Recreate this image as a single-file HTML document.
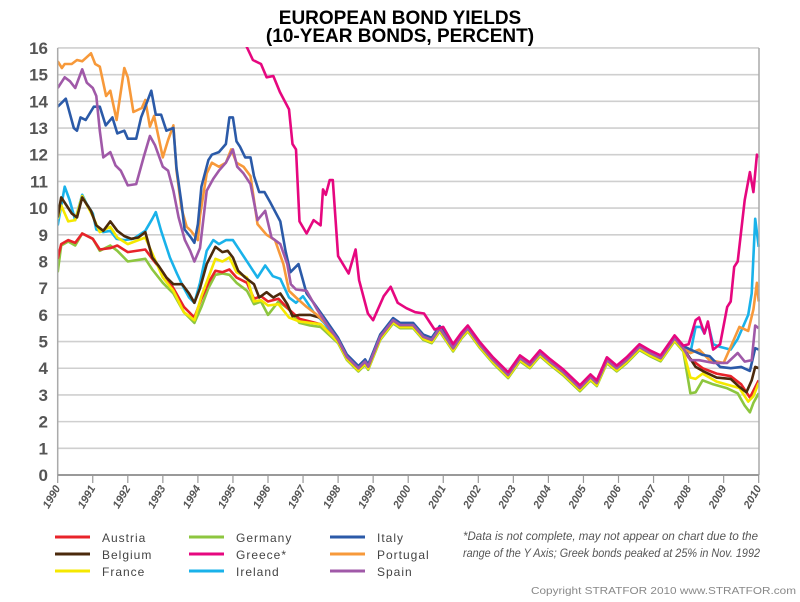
<!DOCTYPE html>
<html><head><meta charset="utf-8"><style>
body{margin:0;background:#fff;width:800px;height:602px;overflow:hidden;font-family:"Liberation Sans",sans-serif}
svg{display:block}
</style></head><body>
<svg id="chart" width="800" height="602" xmlns="http://www.w3.org/2000/svg">
<text x="400" y="24" text-anchor="middle" font-family="Liberation Sans" font-weight="bold" font-size="19">EUROPEAN BOND YIELDS</text>
<text x="400" y="42" text-anchor="middle" font-family="Liberation Sans" font-weight="bold" font-size="19">(10-YEAR BONDS, PERCENT)</text>
<g id="grid"></g><g id="series" clip-path="url(#plotclip)"></g><g id="axes"></g><g id="legend"></g>
<defs><clipPath id="plotclip"><rect x="57" y="47" width="703" height="430"/></clipPath></defs>
<text x="463" y="540" font-family="Liberation Sans" font-style="italic" font-size="11.5" fill="#555" textLength="295" lengthAdjust="spacingAndGlyphs">*Data is not complete, may not appear on chart due to the</text>
<text x="463" y="557" font-family="Liberation Sans" font-style="italic" font-size="11.5" fill="#555" textLength="297" lengthAdjust="spacingAndGlyphs">range of the Y Axis; Greek bonds peaked at 25% in Nov. 1992</text>
<text x="796" y="594" text-anchor="end" font-family="Liberation Sans" font-size="10.5" fill="#888" textLength="265" lengthAdjust="spacingAndGlyphs">Copyright STRATFOR 2010    www.STRATFOR.com</text>
</svg>
<script>
const yTicks=[0,1,2,3,4,5,6,7,8,9,10,11,12,13,14,15,16];
const xTicks=[1990,1991,1992,1993,1994,1995,1996,1997,1998,1999,2000,2001,2002,2003,2004,2005,2006,2007,2008,2009,2010];
const convYears=[1998.0,1998.25,1998.58,1998.77,1998.86,1999.2,1999.57,1999.77,2000.14,2000.43,2000.67,2000.9,2001.28,2001.53,2001.7,2002.05,2002.42,2002.85,2003.19,2003.47,2003.76,2004.05,2004.42,2004.9,2005.2,2005.38,2005.67,2005.95,2006.23,2006.6,2006.9,2007.2,2007.6,2007.85];
const convVals=[5.06,4.43,4.0,4.25,4.06,5.18,5.8,5.62,5.62,5.18,5.06,5.5,4.75,5.25,5.5,4.87,4.31,3.75,4.38,4.12,4.57,4.24,3.86,3.26,3.67,3.45,4.31,4.0,4.31,4.8,4.57,4.38,5.13,4.75];

const italyYears=[1990.0,1990.23,1990.46,1990.55,1990.65,1990.8,1991.03,1991.2,1991.37,1991.56,1991.7,1991.9,1992.0,1992.24,1992.38,1992.5,1992.67,1992.8,1992.95,1993.1,1993.3,1993.39,1993.53,1993.62,1993.8,1993.9,1994.0,1994.1,1994.3,1994.4,1994.6,1994.8,1994.9,1995.0,1995.1,1995.2,1995.35,1995.5,1995.6,1995.75,1995.9,1996.07,1996.35,1996.5,1996.64,1996.87,1997.1,1997.3,1997.6];
const italyVals=[13.8,14.1,13.0,12.9,13.4,13.3,13.8,13.8,13.1,13.4,12.8,12.9,12.6,12.6,13.4,13.8,14.4,13.5,13.5,12.9,13.0,11.5,10.2,9.2,8.9,8.7,9.4,10.8,11.8,12.0,12.1,12.4,13.4,13.4,12.5,12.3,11.9,11.9,11.2,10.6,10.6,10.2,9.5,8.4,7.6,7.9,6.8,6.45,5.9];
const italyLateYears=[2008.05,2008.4,2008.6,2008.9,2009.2,2009.5,2009.75,2009.9,2010.0];
const italyLateVals=[4.7,4.5,4.45,4.05,4.0,4.05,3.9,4.75,4.7];

const portugalYears=[1990.0,1990.12,1990.2,1990.4,1990.55,1990.7,1990.95,1991.07,1991.2,1991.38,1991.5,1991.68,1991.9,1992.0,1992.16,1992.4,1992.5,1992.63,1992.75,1993.0,1993.15,1993.3,1993.39,1993.53,1993.68,1993.8,1994.0,1994.06,1994.25,1994.4,1994.6,1994.8,1994.95,1995.1,1995.3,1995.5,1995.7,1995.96,1996.2,1996.44,1996.6,1996.8,1997.1,1997.4,1997.7];
const portugalVals=[15.5,15.25,15.4,15.4,15.55,15.5,15.8,15.4,15.3,14.2,14.4,13.3,15.25,14.9,13.6,13.75,14.05,13.05,13.45,11.9,12.55,13.1,11.4,10.0,9.3,9.15,8.8,9.7,11.3,11.7,11.55,11.7,12.2,11.7,11.55,11.2,9.4,9.0,8.8,7.9,6.9,6.65,6.3,6.0,5.6];
const portugalLateYears=[2008.05,2008.3,2008.6,2009.0,2009.2,2009.45,2009.7,2009.85,2009.95,2010.0];
const portugalLateVals=[4.57,4.7,4.3,4.2,4.8,5.55,5.4,6.2,7.2,6.5];

const spainYears=[1990.0,1990.2,1990.35,1990.5,1990.7,1990.83,1991.0,1991.1,1991.2,1991.3,1991.5,1991.65,1991.8,1992.0,1992.24,1992.45,1992.63,1992.78,1993.0,1993.15,1993.3,1993.45,1993.63,1993.78,1993.9,1994.06,1994.25,1994.44,1994.6,1994.8,1995.0,1995.12,1995.3,1995.5,1995.7,1995.92,1996.1,1996.35,1996.55,1996.65,1996.8,1997.1,1997.4,1997.7];
const spainVals=[14.5,14.9,14.75,14.5,15.2,14.7,14.5,14.2,12.9,11.9,12.1,11.6,11.4,10.85,10.9,11.9,12.7,12.35,11.55,11.4,10.65,9.65,8.8,8.4,8.0,8.5,10.65,11.1,11.4,11.7,12.2,11.55,11.3,10.9,9.55,9.9,8.9,8.65,7.9,7.15,6.95,6.9,6.2,5.6];
const spainLateYears=[2008.05,2008.3,2008.7,2009.1,2009.4,2009.6,2009.8,2009.9,2010.0];
const spainLateVals=[4.3,4.3,4.2,4.2,4.57,4.25,4.3,5.6,5.5];

const irelandYears=[1990.0,1990.2,1990.34,1990.5,1990.7,1990.83,1991.0,1991.1,1991.3,1991.5,1991.68,1991.9,1992.16,1992.5,1992.7,1992.8,1992.95,1993.2,1993.4,1993.58,1993.75,1993.9,1994.06,1994.25,1994.44,1994.6,1994.8,1995.0,1995.2,1995.45,1995.7,1995.92,1996.14,1996.35,1996.6,1996.8,1997.0,1997.3,1997.6];
const irelandVals=[9.35,10.8,10.3,9.55,10.5,10.15,9.8,9.2,9.1,9.15,8.85,8.8,8.85,9.15,9.6,9.85,9.15,8.15,7.55,7.05,6.65,6.45,7.2,8.4,8.8,8.65,8.8,8.8,8.4,7.9,7.4,7.85,7.45,7.35,6.65,6.45,6.7,6.1,5.7];
const irelandLateYears=[2008.05,2008.2,2008.35,2008.45,2008.55,2008.7,2008.9,2009.2,2009.4,2009.7,2009.8,2009.9,2010.0];
const irelandLateVals=[4.57,5.55,5.55,5.3,5.7,4.9,4.8,4.7,5.1,6.0,6.8,9.6,8.55];

const belgiumYears=[1990.0,1990.1,1990.25,1990.4,1990.55,1990.7,1990.95,1991.1,1991.3,1991.5,1991.7,1991.9,1992.1,1992.3,1992.5,1992.7,1992.9,1993.1,1993.3,1993.55,1993.75,1993.9,1994.06,1994.25,1994.5,1994.7,1994.85,1995.0,1995.15,1995.35,1995.6,1995.75,1995.96,1996.15,1996.35,1996.55,1996.7,1996.9,1997.2,1997.6];
const belgiumVals=[9.65,10.4,10.1,9.8,9.65,10.4,9.9,9.35,9.15,9.5,9.15,8.95,8.85,8.9,9.1,8.15,7.8,7.4,7.15,7.15,6.8,6.45,7.0,7.9,8.55,8.35,8.4,8.15,7.65,7.4,7.15,6.65,6.85,6.65,6.8,6.4,5.95,6.0,6.0,5.85];
const belgiumLateYears=[2008.0,2008.2,2008.4,2008.8,2009.2,2009.45,2009.65,2009.8,2009.9,2010.0];
const belgiumLateVals=[4.45,4.05,3.9,3.65,3.6,3.3,3.1,3.55,4.05,4.0];

const franceYears=[1990.0,1990.1,1990.3,1990.5,1990.7,1991.0,1991.2,1991.5,1991.7,1992.0,1992.5,1992.7,1993.0,1993.3,1993.6,1993.9,1994.1,1994.3,1994.5,1994.7,1994.9,1995.1,1995.4,1995.6,1995.8,1996.0,1996.3,1996.6,1996.9,1997.2,1997.5];
const franceVals=[9.6,10.1,9.5,9.55,10.45,9.7,9.1,9.3,8.9,8.65,8.9,8.3,7.4,6.9,6.1,5.8,6.7,7.4,8.1,8.0,8.15,7.6,7.4,6.5,6.55,6.35,6.4,5.9,5.75,5.7,5.65];
const franceLateYears=[2008.05,2008.2,2008.4,2008.8,2009.2,2009.45,2009.7,2009.85,2010.0];
const franceLateVals=[3.65,3.6,3.8,3.5,3.35,3.26,2.75,2.95,3.45];

const austriaYears=[1990.0,1990.1,1990.3,1990.5,1990.7,1991.0,1991.2,1991.5,1991.7,1992.0,1992.5,1992.7,1993.0,1993.3,1993.6,1993.9,1994.1,1994.3,1994.5,1994.7,1994.9,1995.1,1995.4,1995.6,1995.8,1996.0,1996.3,1996.6,1996.9,1997.2,1997.5];
const austriaVals=[8.1,8.65,8.8,8.7,9.05,8.85,8.45,8.5,8.6,8.35,8.45,8.1,7.6,7.0,6.3,5.9,6.6,7.2,7.65,7.6,7.7,7.4,7.2,6.6,6.7,6.5,6.6,6.2,5.85,5.75,5.65];
const austriaLateYears=[2008.0,2008.4,2008.8,2009.2,2009.5,2009.75,2010.0];
const austriaLateVals=[4.4,4.0,3.8,3.7,3.4,2.9,3.55];

const germanyYears=[1990.0,1990.1,1990.3,1990.5,1990.7,1991.0,1991.2,1991.5,1991.7,1992.0,1992.5,1992.7,1993.0,1993.3,1993.6,1993.9,1994.1,1994.3,1994.5,1994.7,1994.9,1995.1,1995.4,1995.6,1995.8,1996.0,1996.3,1996.6,1996.9,1997.2,1997.5];
const germanyVals=[7.6,8.6,8.75,8.6,9.05,8.85,8.4,8.6,8.4,8.0,8.1,7.7,7.2,6.8,6.1,5.7,6.3,7.0,7.5,7.55,7.5,7.2,6.9,6.4,6.5,6.0,6.5,6.2,5.7,5.6,5.55];
const germanyLateYears=[2008.05,2008.2,2008.4,2008.7,2009.1,2009.4,2009.6,2009.75,2009.85,2010.0];
const germanyLateVals=[3.06,3.1,3.55,3.4,3.25,3.06,2.6,2.35,2.7,3.06];

const greeceYears=[1995.3,1995.39,1995.57,1995.8,1995.96,1996.15,1996.34,1996.6,1996.7,1996.8,1996.9,1997.1,1997.3,1997.5,1997.57,1997.65,1997.76,1997.85,1998.0,1998.3,1998.5,1998.6,1998.85,1999.0,1999.3,1999.5,1999.7,1999.95,2000.2,2000.45,2000.75,2001.0,2001.28,2001.53,2001.7];
const greeceVals=[17,16.05,15.55,15.4,14.9,14.95,14.35,13.7,12.4,12.2,9.5,9.05,9.55,9.35,10.7,10.5,11.05,11.05,8.2,7.55,8.45,7.3,6.05,5.8,6.7,7.05,6.45,6.25,6.1,6.05,5.45,5.55,4.9,5.35,5.6];
const greeceLateYears=[2008.0,2008.2,2008.3,2008.45,2008.55,2008.7,2008.9,2009.1,2009.2,2009.3,2009.4,2009.6,2009.75,2009.85,2009.95,2010.0];
const greeceLateVals=[4.9,5.8,5.9,5.3,5.75,4.7,4.9,6.3,6.5,7.8,8.0,10.3,11.35,10.6,12.0,11.9];

const convOffsets={italy:0.08,portugal:0.04,spain:0.0,ireland:-0.05,belgium:0.0,france:-0.08,austria:-0.04,germany:-0.12,greece:0.1};

const NS="http://www.w3.org/2000/svg";
const X0=57.7,XW=35.05,Y0=475,YU=26.69;
function xs(yr){return X0+(yr-1990)*XW;}
function ys(v){return Y0-v*YU;}
function mk(tag,attrs,parent){const e=document.createElementNS(NS,tag);for(const k in attrs)e.setAttribute(k,attrs[k]);parent.appendChild(e);return e;}

const grid=document.getElementById('grid'),axes=document.getElementById('axes'),ser=document.getElementById('series'),leg=document.getElementById('legend');
yTicks.forEach(t=>{
  if(t>0){const l=mk('line',{x1:X0,x2:759,y1:ys(t),y2:ys(t),stroke:'#cfcfcf','stroke-width':1.6},grid);
  
  }
  const tx=mk('text',{x:48,y:ys(t)+6,'text-anchor':'end','font-size':17,'font-weight':'bold',fill:'#555','font-family':'Liberation Sans'},axes);
  tx.textContent=t;
  
  
});
const la=mk('line',{x1:X0,x2:X0,y1:ys(16),y2:Y0,stroke:'#aaa','stroke-width':1.5},axes);


const ra=mk('line',{x1:759,x2:759,y1:ys(16),y2:Y0,stroke:'#aaa','stroke-width':1.5},axes);


const ba=mk('line',{x1:X0,x2:759,y1:Y0,y2:Y0,stroke:'#999','stroke-width':2},axes);


xTicks.forEach(t=>{
  const x=xs(t);
  const tk=mk('line',{x1:x,x2:x,y1:Y0,y2:Y0+8,stroke:'#999','stroke-width':1.2},axes);
  
  
  const tx=mk('text',{x:x+3,y:Y0+13,'text-anchor':'end','font-size':11,'font-weight':'bold','font-style':'italic',fill:'#555','font-family':'Liberation Sans',transform:`rotate(-60 ${x+3} ${Y0+13})`},axes);
  tx.textContent=t;
  
  
});

function build(ey,ev,off,ly,lv,startConv){
  const pts=[];
  ey.forEach((y,i)=>pts.push([y,ev[i]]));
  convYears.forEach((y,i)=>{if(y>ey[ey.length-1]&&y>=startConv)pts.push([y,convVals[i]+off]);});
  ly.forEach((y,i)=>pts.push([y,lv[i]]));
  return pts;
}
const seriesList=[
 ['ireland','#19b2ea',build(irelandYears,irelandVals,convOffsets.ireland,irelandLateYears,irelandLateVals,0)],
 ['germany','#8dc63f',build(germanyYears,germanyVals,convOffsets.germany,germanyLateYears,germanyLateVals,0)],
 ['austria','#e8232a',build(austriaYears,austriaVals,convOffsets.austria,austriaLateYears,austriaLateVals,0)],
 ['france','#f5e800',build(franceYears,franceVals,convOffsets.france,franceLateYears,franceLateVals,0)],
 ['belgium','#4b2a0c',build(belgiumYears,belgiumVals,convOffsets.belgium,belgiumLateYears,belgiumLateVals,0)],
 ['portugal','#f7993a',build(portugalYears,portugalVals,convOffsets.portugal,portugalLateYears,portugalLateVals,0)],
 ['italy','#2b5aa8',build(italyYears,italyVals,convOffsets.italy,italyLateYears,italyLateVals,0)],
 ['spain','#a059a8',build(spainYears,spainVals,convOffsets.spain,spainLateYears,spainLateVals,0)],
 ['greece','#e6077f',build(greeceYears,greeceVals,convOffsets.greece,greeceLateYears,greeceLateVals,2002)]
];
seriesList.forEach(([n,c,pts])=>{
  const d=pts.map((p,i)=>(i?'L':'M')+xs(p[0]).toFixed(1)+' '+ys(p[1]).toFixed(1)).join(' ');
  const p=mk('path',{d:d,fill:'none',stroke:c,'stroke-width':2.6,'stroke-linejoin':'round'},ser);
  
  
});

const legendItems=[['Austria','#e8232a',55,537],['Belgium','#4b2a0c',55,554],['France','#f5e800',55,571],
 ['Germany','#8dc63f',189,537],['Greece*','#e6077f',189,554],['Ireland','#19b2ea',189,571],
 ['Italy','#2b5aa8',330,537],['Portugal','#f7993a',330,554],['Spain','#a059a8',330,571]];
legendItems.forEach(([t,c,x,y])=>{
  const g=mk('g',{},leg);
  
  
  mk('line',{x1:x,x2:x+35,y1:y,y2:y,stroke:c,'stroke-width':3},g);
  const tx=mk('text',{x:x+47,y:y+5,'font-size':12,fill:'#444','letter-spacing':'1','font-family':'Liberation Sans'},g);
  tx.textContent=t;
});
</script>
</body></html>
